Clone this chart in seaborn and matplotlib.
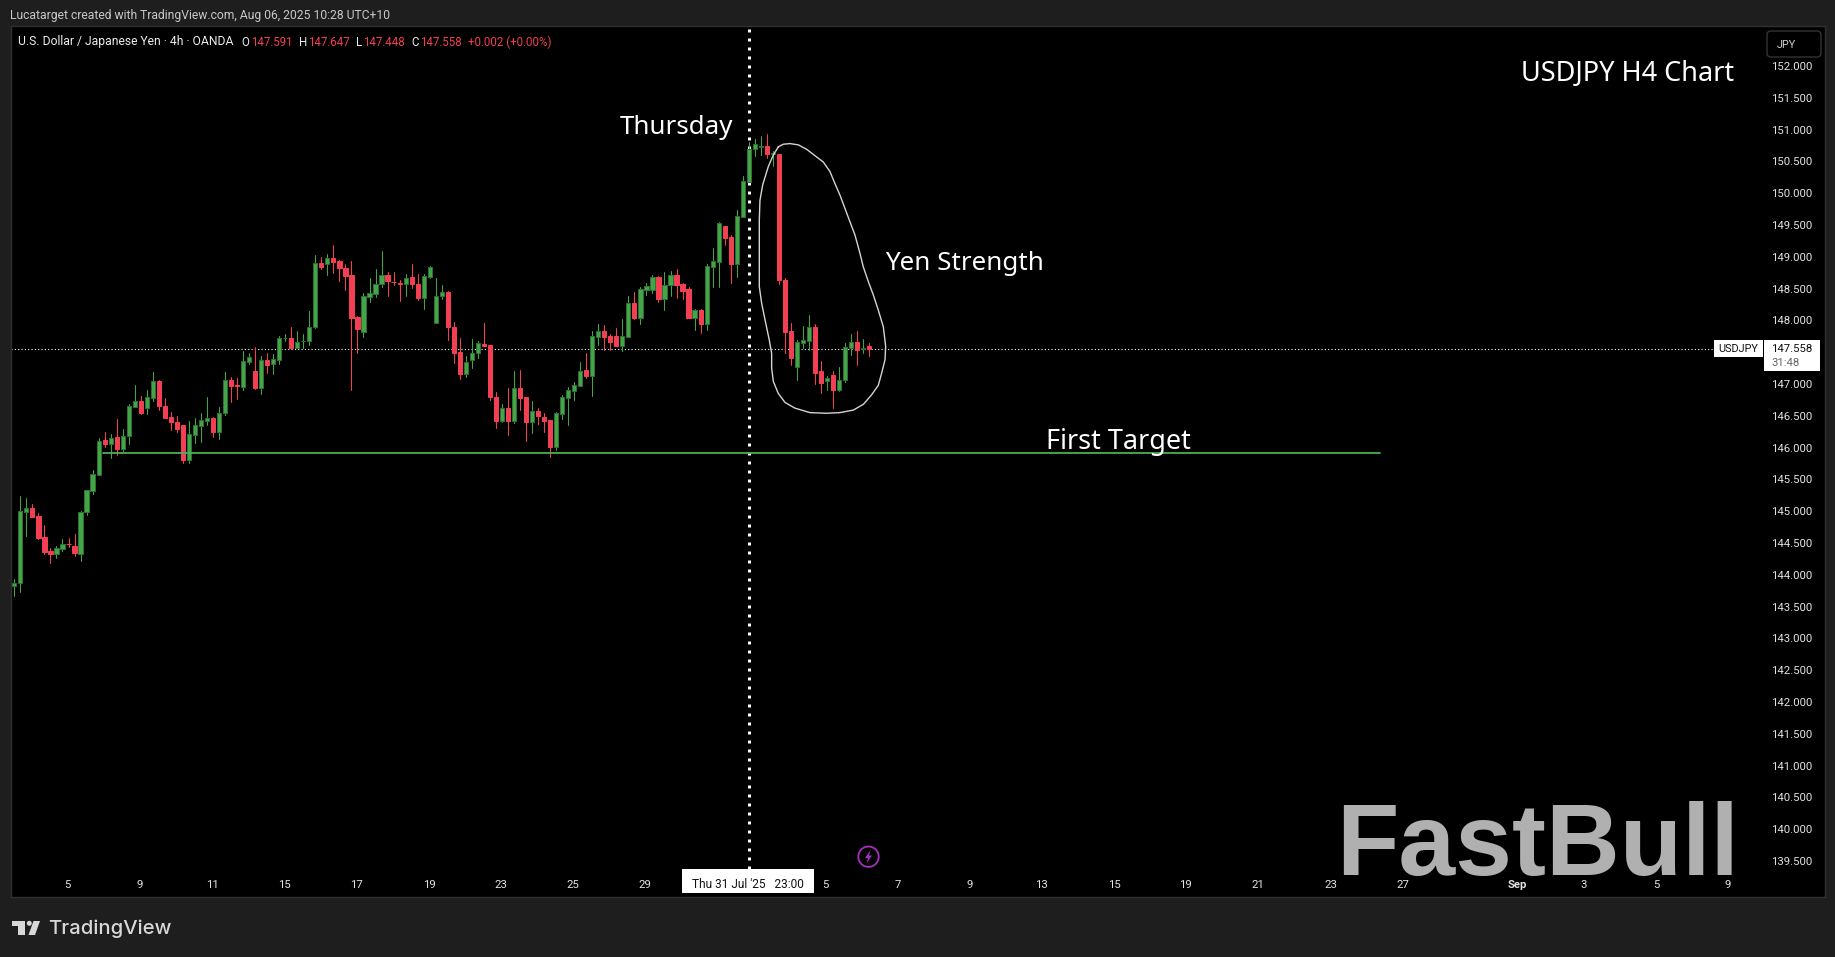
import matplotlib
matplotlib.use("Agg")
import matplotlib.pyplot as plt
from matplotlib.patches import Rectangle, FancyBboxPatch, Circle, Polygon
from matplotlib.transforms import IdentityTransform
import numpy as np
import pandas as pd
import seaborn as sns

# candle values, USD/JPY 4h
opens = [143.83, 143.87, 144.99, 145.05, 144.92, 144.59, 144.37, 144.33, 144.41, 144.49,
         144.45, 144.33, 144.98, 145.32, 145.57, 146.12, 146.05, 146.16, 145.98, 146.19,
         146.64, 146.74, 146.63, 146.78, 147.04, 146.66, 146.48, 146.41, 146.35, 145.81,
         146.20, 146.34, 146.42, 146.46, 146.25, 146.55, 147.07, 146.98, 146.96, 147.35,
         147.20, 146.94, 147.37, 147.31, 147.38, 147.72, 147.72, 147.57, 147.67, 147.67,
         147.89, 148.90, 148.89, 148.98, 148.93, 148.83, 148.71, 148.05, 147.82, 148.37,
         148.42, 148.58, 148.72, 148.61, 148.59, 148.58, 148.68, 148.58, 148.36, 148.68,
         147.96, 148.39, 148.44, 147.89, 147.50, 147.15, 147.37, 147.48, 147.63, 147.61,
         146.79, 146.42, 146.62, 146.42, 146.93, 146.79, 146.41, 146.57, 146.48, 146.43,
         146.01, 146.53, 146.78, 146.89, 146.97, 147.22, 147.13, 147.74, 147.84, 147.75,
         147.76, 147.60, 147.74, 148.27, 148.04, 148.48, 148.48, 148.69, 148.34, 148.55,
         148.71, 148.57, 148.49, 148.04, 148.16, 147.95, 148.84, 148.92, 149.48, 149.31,
         148.88, 149.63, 150.18, 150.69, 150.72, 150.74, 150.61, 150.62, 148.63, 147.83,
         147.26, 147.65, 147.68, 147.89, 147.20, 147.04, 147.14, 146.91, 147.07, 147.57,
         147.66, 147.55, 147.591]
highs = [143.93, 145.24, 145.20, 145.11, 144.97, 144.78, 144.42, 144.45, 144.56, 144.58,
         144.64, 145.00, 145.34, 145.65, 146.15, 146.25, 146.21, 146.45, 146.29, 146.68,
         146.98, 146.81, 146.90, 147.19, 147.06, 146.78, 146.56, 146.50, 146.35, 146.42,
         146.46, 146.54, 146.80, 146.48, 146.64, 147.19, 147.11, 147.09, 147.52, 147.49,
         147.58, 147.44, 147.49, 147.47, 147.75, 147.79, 147.90, 147.83, 147.79, 148.15,
         149.03, 149.00, 149.04, 149.18, 148.95, 148.89, 148.93, 148.07, 148.43, 148.67,
         148.81, 149.09, 148.76, 148.76, 148.64, 148.73, 148.89, 148.73, 148.73, 148.85,
         148.67, 148.56, 148.46, 147.97, 147.72, 147.44, 147.71, 147.67, 147.96, 147.61,
         146.88, 146.68, 146.94, 147.20, 147.22, 146.79, 146.73, 146.62, 146.54, 146.43,
         146.56, 146.83, 146.95, 147.03, 147.35, 147.49, 147.83, 147.94, 147.93, 147.79,
         147.88, 148.02, 148.38, 148.45, 148.52, 148.59, 148.71, 148.70, 148.76, 148.78,
         148.81, 148.59, 148.52, 148.18, 148.18, 148.89, 149.14, 149.55, 149.48, 149.34,
         149.74, 150.27, 150.81, 150.85, 150.90, 150.93, 150.66, 150.62, 148.67, 147.96,
         147.69, 147.91, 148.09, 147.94, 147.36, 147.13, 147.20, 147.27, 147.64, 147.79,
         147.83, 147.71, 147.647]
lows = [143.67, 143.73, 144.61, 144.91, 144.56, 144.33, 144.19, 144.26, 144.37, 144.44,
        144.30, 144.22, 144.94, 145.27, 145.57, 146.01, 145.84, 145.88, 145.95, 146.06,
        146.64, 146.53, 146.53, 146.73, 146.59, 146.47, 146.28, 146.25, 145.76, 145.76,
        146.07, 146.09, 146.36, 146.17, 146.14, 146.51, 146.72, 146.76, 146.90, 147.31,
        146.92, 146.84, 147.17, 147.16, 147.31, 147.68, 147.56, 147.56, 147.56, 147.61,
        147.88, 148.81, 148.71, 148.75, 148.62, 148.48, 146.90, 147.49, 147.74, 148.29,
        148.37, 148.52, 148.38, 148.56, 148.30, 148.38, 148.51, 148.32, 148.18, 148.67,
        147.96, 148.34, 147.69, 147.33, 147.08, 147.11, 147.25, 147.41, 147.60, 146.75,
        146.31, 146.41, 146.20, 146.39, 146.59, 146.10, 146.23, 146.37, 146.25, 145.85,
        145.96, 146.45, 146.35, 146.75, 146.97, 147.09, 146.81, 147.61, 147.54, 147.54,
        147.60, 147.52, 147.74, 148.02, 147.94, 148.40, 148.43, 148.29, 148.16, 148.38,
        148.35, 148.34, 148.03, 147.85, 147.80, 147.85, 148.52, 148.52, 149.19, 148.59,
        148.68, 149.63, 150.18, 150.59, 150.60, 150.55, 150.42, 148.58, 147.49, 147.30,
        147.06, 147.56, 147.53, 147.00, 146.86, 146.91, 146.62, 146.89, 147.03, 147.46,
        147.30, 147.49, 147.448]
closes = [143.87, 145.00, 145.05, 144.91, 144.58, 144.36, 144.33, 144.42, 144.49, 144.48,
          144.35, 144.98, 145.33, 145.58, 146.11, 146.06, 146.15, 145.98, 146.19, 146.65,
          146.74, 146.55, 146.79, 147.04, 146.66, 146.47, 146.41, 146.29, 145.81, 146.21,
          146.35, 146.43, 146.46, 146.24, 146.55, 147.07, 146.97, 146.97, 147.36, 147.42,
          146.94, 147.37, 147.30, 147.39, 147.72, 147.73, 147.57, 147.66, 147.68, 147.89,
          148.90, 148.84, 148.98, 148.92, 148.83, 148.70, 148.04, 147.87, 148.38, 148.43,
          148.58, 148.72, 148.62, 148.60, 148.58, 148.66, 148.58, 148.35, 148.70, 148.84,
          148.38, 148.44, 147.89, 147.48, 147.15, 147.34, 147.48, 147.64, 147.60, 146.80,
          146.42, 146.63, 146.42, 146.93, 146.78, 146.41, 146.57, 146.50, 146.42, 146.01,
          146.54, 146.79, 146.90, 146.99, 147.21, 147.13, 147.75, 147.84, 147.74, 147.66,
          147.60, 147.75, 148.27, 148.04, 148.49, 148.54, 148.68, 148.34, 148.55, 148.71,
          148.56, 148.46, 148.04, 148.16, 147.95, 148.85, 148.93, 149.53, 149.30, 148.88,
          149.64, 150.19, 150.69, 150.77, 150.74, 150.61, 150.63, 148.63, 147.82, 147.41,
          147.66, 147.69, 147.89, 147.18, 147.02, 147.09, 146.91, 147.07, 147.58, 147.66,
          147.54, 147.56, 147.558]

price_ticks = [139.5 + 0.5 * k for k in range(26)]
date_labels = ["5", "9", "11", "15", "17", "19", "23", "25", "29", "5", "7", "9", "13",
               "15", "19", "21", "23", "27", "Sep", "3", "5", "9"]
date_slots = [8.83, 20.87, 32.84, 44.88, 56.9, 68.9, 80.85, 92.8, 104.8, 134.8, 146.8, 158.7,
              170.7, 182.7, 194.6, 206.6, 218.7, 230.7, 249.6, 260.6, 272.7, 284.6]
last_price = 147.558
target_price = 145.92
cross_candle = 122

# hand drawn loop round the yen move (candle number, price)
loop_x = [126.91, 127.74, 128.85, 130.23, 131.62, 133.00, 134.38, 135.49, 136.32, 137.15,
          137.98, 138.81, 139.65, 140.48, 141.03, 141.86, 142.69, 143.52, 144.35, 144.74,
          144.63, 144.07, 143.52, 142.41, 141.03, 139.37, 137.15, 134.94, 132.17, 129.68,
          128.02, 126.91, 126.08, 125.80, 125.80, 125.41, 124.70, 124.14, 123.75, 123.75,
          123.75, 123.86, 124.31, 125.25, 126.08, 126.91]
loop_y = [150.73, 150.77, 150.78, 150.76, 150.69, 150.59, 150.49, 150.34, 150.15, 149.97,
          149.76, 149.55, 149.34, 149.05, 148.84, 148.61, 148.40, 148.16, 147.90, 147.59,
          147.38, 147.17, 146.98, 146.83, 146.68, 146.59, 146.55, 146.54, 146.55, 146.62,
          146.71, 146.85, 147.04, 147.25, 147.48, 147.69, 148.01, 148.27, 148.53, 149.05,
          149.58, 149.89, 150.13, 150.42, 150.60, 150.73]

W, H = 1835, 957
BG = "#1e1e1e"
GREEN = "#43a548"
GREEN_EDGE = "#2d7031"
RED = "#f23f52"
TICK = "#e2e2e2"

sns.set_theme(style="dark")
plt.rcParams["font.family"] = ["Roboto", "DejaVu Sans"]

candles = pd.DataFrame({"open": opens, "high": highs, "low": lows, "close": closes})
candles["n"] = candles.index
candles["up"] = candles["close"] >= candles["open"]
candles["body"] = (candles["close"] - candles["open"]).abs()
candles["bottom"] = candles[["open", "close"]].min(axis=1)

wicks = candles.melt(id_vars=["n", "up"], value_vars=["low", "high"], value_name="price")

fig = plt.figure(figsize=(W / 100, H / 100), dpi=100, facecolor=BG)
ax = fig.add_axes([11 / W, 1 - 897 / H, (1825 - 11) / W, (897 - 26) / H], facecolor="black")


def px_text(x, y, s, **kw):
    kw.setdefault("va", "center")
    kw.setdefault("zorder", 8)
    return fig.text(x / W, 1 - y / H, s, **kw)


def px_box(x0, y0, x1, y1, color):
    fig.add_artist(Rectangle((x0, H - y1), x1 - x0, y1 - y0, transform=IdentityTransform(),
                             facecolor=color, edgecolor="none", zorder=6))


for is_up, wick_color, fill, edge in [(True, GREEN, GREEN, GREEN_EDGE), (False, RED, RED, RED)]:
    sns.lineplot(data=wicks[wicks["up"] == is_up], x="n", y="price", units="n", estimator=None,
                 color=wick_color, linewidth=0.75, legend=False, ax=ax, zorder=3)
    part = candles[candles["up"] == is_up]
    sns.barplot(data=part, x="n", y="body", bottom=part["bottom"].to_numpy(), native_scale=True,
                width=0.7, color=fill, saturation=1, errorbar=None, edgecolor=edge,
                linewidth=0.72, ax=ax, zorder=3)

# levels and crosshair sit behind the candles, the target line on top
ax.axhline(last_price, xmax=(1714 - 11) / (1825 - 11), color="white", linewidth=0.8,
           linestyle=(0, (1, 2)), zorder=1.5)
ax.axvline(cross_candle, ymin=(897 - 869) / (897 - 26), color="white", linewidth=2.16,
           linestyle=(0, (1, 2)), zorder=1.5)
ax.plot([14.73, 226.9], [target_price, target_price], color="#4caf50", linewidth=1.3, zorder=4)

sns.lineplot(x=loop_x, y=loop_y, sort=False, estimator=None, color="#d4d4d4", linewidth=1.0,
             ax=ax, zorder=5)

ax.set_xlim((11 - 14.33) / 6.02, (1825 - 14.33) / 6.02)
ax.set_ylim(152 - (897 - 66) / 63.6, 152 - (26 - 66) / 63.6)
ax.set_xlabel("")
ax.set_ylabel("")
ax.grid(False)
ax.set_yticks(price_ticks)
ax.set_yticklabels([f"{p:.3f}" for p in price_ticks])
ax.yaxis.tick_right()
ax.tick_params(axis="y", length=0, pad=-38.8, labelsize=8.2, labelcolor=TICK)
ax.set_xticks(date_slots)
ax.set_xticklabels(date_labels)
ax.tick_params(axis="x", length=0, pad=-12.2, labelsize=8.2, labelcolor=TICK)
for lab, txt in zip(ax.get_xticklabels(), date_labels):
    if txt == "Sep":
        lab.set_fontweight("bold")
for side in ax.spines.values():
    side.set_color("#303030")
    side.set_linewidth(1.0)

# header strip
px_text(10, 15, "Lucatarget created with TradingView.com, Aug 06, 2025 10:28 UTC+10",
        color="#c8c8c8", fontsize=8.7)
px_text(18, 42, "U.S. Dollar / Japanese Yen · 4h · OANDA", color="#ececec", fontsize=8.7)
for x, s, c in [(241, "O", "#ececec"), (251, "147.591", RED), (299, "H", "#ececec"),
                (308, "147.647", RED), (356, "L", "#ececec"), (363, "147.448", RED),
                (411, "C", "#ececec"), (420, "147.558", RED), (468, "+0.002 (+0.00%)", RED)]:
    px_text(x, 42, s, color=c, fontsize=8.3)

# chart notes
note_font = ["Noto Sans", "DejaVu Sans"]
px_text(620, 127.5, "Thursday", color="white", fontsize=18.7, family=note_font)
px_text(1521, 74.5, "USDJPY H4 Chart", color="white", fontsize=19.5, family=note_font)
px_text(885, 263.5, "Yen Strength", color="white", fontsize=18.7, family=note_font)
px_text(1046, 442.5, "First Target", color="white", fontsize=19.5, family=note_font)

# last price tags
px_box(1714, 340, 1763, 357, "white")
px_text(1738.5, 348.5, "USDJPY", color="#111111", fontsize=7.8, ha="center")
px_box(1764, 340, 1820, 371, "white")
px_text(1771, 349, "147.558", color="#111111", fontsize=8.2)
px_text(1771, 363, "31:48", color="#666666", fontsize=8.2)

# crosshair date tag
px_box(682, 869, 814, 893, "white")
px_text(748, 884, "Thu 31 Jul '25   23:00", color="#111111", fontsize=8.6, ha="center")

# currency button
fig.add_artist(FancyBboxPatch((1769, H - 55), 50, 22, boxstyle="round,pad=2,rounding_size=4",
                              transform=IdentityTransform(), facecolor="black",
                              edgecolor="#333333", linewidth=1, zorder=6))
px_text(1786, 45, "JPY", color="#cfcfcf", fontsize=7.8, ha="center")

# bolt marker
fig.add_artist(Circle((868.5, H - 856.7), 10.2, transform=IdentityTransform(), facecolor="none",
                      edgecolor="#a62fc0", linewidth=1.3, zorder=6))
bolt = [(870.5, 850), (865, 858), (868, 858), (866.5, 863.5), (872, 855.5), (869, 855.5)]
fig.add_artist(Polygon([(a, H - b) for a, b in bolt], transform=IdentityTransform(),
                       facecolor="#a62fc0", edgecolor="none", zorder=6))

# watermark
px_text(1538, 875, "FastBull", color="#b0b0b0", fontsize=73.5, ha="center", va="baseline",
        fontweight="bold", family=["Liberation Sans", "DejaVu Sans"], zorder=7)

# footer logo
for pts in [[(12, 921), (24.6, 921), (24.6, 935), (17.6, 935), (17.6, 926), (12, 926)],
            [(33.5, 921), (40, 921), (35, 935), (28.5, 935)]]:
    fig.add_artist(Polygon([(a, H - b) for a, b in pts], transform=IdentityTransform(),
                           facecolor="#d8d8d8", edgecolor="none", zorder=6))
fig.add_artist(Circle((29.3, H - 923.3), 2.5, transform=IdentityTransform(),
                      facecolor="#d8d8d8", edgecolor="none", zorder=6))
px_text(48, 929, "TradingView", color="#d8d8d8", fontsize=14.6, fontweight="medium",
        family=["Inter", "DejaVu Sans"])

fig.savefig("out.png", dpi=100, facecolor=BG)
